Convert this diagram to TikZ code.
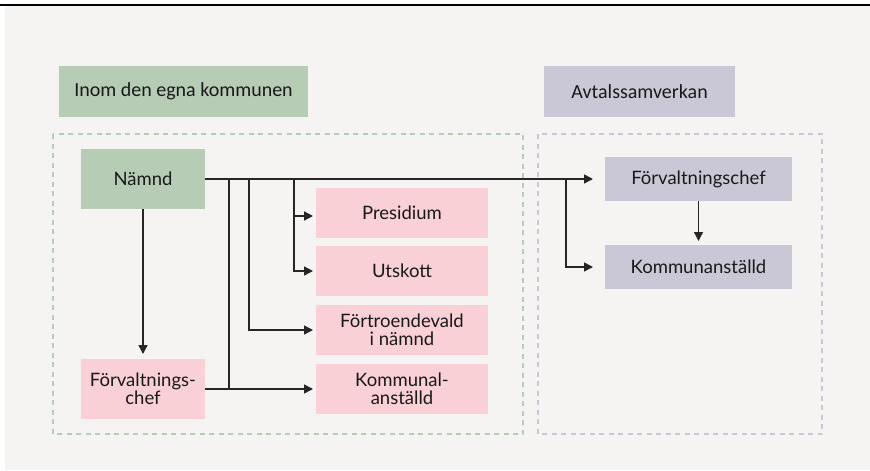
\documentclass[tikz,border=0pt]{standalone}
\usepackage{fontspec}
\setmainfont{Lato}
\newfontfamily\headfont{Carlito}
\usetikzlibrary{arrows.meta}
\definecolor{bgc}{HTML}{F5F4F2}
\definecolor{greenc}{HTML}{B7CCB5}
\definecolor{pinkc}{HTML}{F9D0D6}
\definecolor{purplec}{HTML}{CAC8D7}
\definecolor{dashgreen}{HTML}{B7CCB5}
\definecolor{dashpurple}{HTML}{C8C7D6}
\tikzset{
  box/.style={inner sep=0pt, outer sep=0pt, align=center, font=\fontsize{18.5}{18}\selectfont, text=black!90},
  hbox/.style={box, font=\headfont\fontsize{20}{22}\selectfont},
  gbox/.style={box, fill=greenc},
  pbox/.style={box, fill=pinkc},
  vbox/.style={box, fill=purplec},
  conn/.style={line width=1.4pt, black!85},
  arr/.style={conn, -{Triangle[length=9pt,width=9pt]}},
  dashbox/.style={line width=1.5pt, dash pattern=on 5pt off 4.5pt},
}
\begin{document}
\begin{tikzpicture}[x=1pt,y=-1pt]
\useasboundingbox (0,0) rectangle (870,471);
\fill[white] (0,0) rectangle (870,471);
\fill[bgc] (5,6) rectangle (870,470);
\draw[line width=1.5pt, black] (0,5) -- (870,5);
% headers
\node[hbox, fill=greenc, minimum width=249pt, minimum height=51pt] (h1) at (183.5,91.5) {Inom den egna kommunen};
\node[hbox, fill=purplec, minimum width=191pt, minimum height=51pt] (h2) at (639.5,91.5) {Avtalssamverkan};
% dashed boxes
\draw[dashbox, dashgreen] (53,134) rectangle (523,434);
\draw[dashbox, dashpurple] (538,134) rectangle (822,434);
% nodes
\node[gbox, minimum width=124pt, minimum height=60pt] (namnd) at (143,179) {Nämnd};
\node[pbox, minimum width=124pt, minimum height=60pt] (fchef) at (143,389) {Förvaltnings-\\chef};
\node[pbox, minimum width=172pt, minimum height=50pt] (pres) at (402,213) {Presidium};
\node[pbox, minimum width=172pt, minimum height=50pt] (utsk) at (402,271) {Utskott};
\node[pbox, minimum width=172pt, minimum height=50pt] (fort) at (402,330) {Förtroendevald\\i nämnd};
\node[pbox, minimum width=172pt, minimum height=50pt] (komm) at (402,389) {Kommunal-\\anställd};
\node[vbox, minimum width=187pt, minimum height=44pt] (rchef) at (698.5,179) {Förvaltningschef};
\node[vbox, minimum width=187pt, minimum height=44pt] (ranst) at (698.5,267) {Kommunanställd};
% junction coordinates
\coordinate (j1) at (229,179);
\coordinate (j2) at (249,179);
\coordinate (j3) at (294,179);
\coordinate (j4) at (566,179);
\coordinate (j1b) at (229,389);
% connectors
\draw[arr, shorten >=12pt] (namnd.east) -- (rchef.west);
\draw[arr, shorten >=12pt] (j4) |- (ranst.west);
\draw[arr, shorten >=3pt] (j3) |- ([yshift=-3pt]pres.west);
\draw[arr, shorten >=3pt] (j3) |- (utsk.west);
\draw[arr, shorten >=3pt] (j2) |- (fort.west);
\draw[conn] (j1) -- (j1b);
\draw[arr, shorten >=3pt] (fchef.east) -- (komm.west);
\draw[arr, shorten >=5pt] (namnd.south) -- (fchef.north);
\draw[arr, shorten >=4pt] (rchef.south) -- (ranst.north);
\end{tikzpicture}
\end{document}
